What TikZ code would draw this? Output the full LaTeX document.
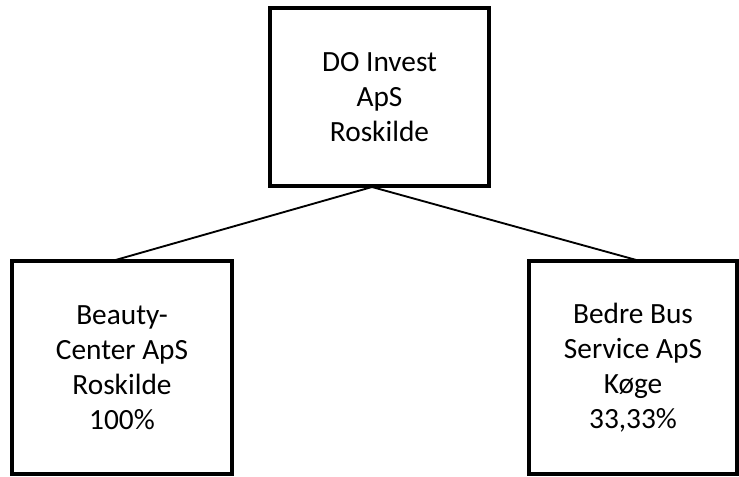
\documentclass[tikz,border=0pt]{standalone}
\usepackage{fontspec}
\setmainfont{Carlito}
\begin{document}
\begin{tikzpicture}[x=0.75pt,y=-0.75pt,
  orgbox/.style={draw=black, line width=2.3pt, rectangle, align=center, inner sep=0pt,
    font=\fontsize{22pt}{26.3pt}\selectfont},
  link/.style={draw=black, line width=1.4pt}]
\useasboundingbox (0,0) rectangle (739,476);
\node[orgbox, minimum width=164.25pt, minimum height=133.5pt] (top) at (379.5,97) {DO Invest\\ApS\\Roskilde};
\node[orgbox, minimum width=165pt, minimum height=159.75pt] (left) at (122,367.5) {Beauty-\\Center ApS\\Roskilde\\100\%};
\node[orgbox, minimum width=156pt, minimum height=159.75pt] (right) at (633,367.5) {Bedre Bus\\Service ApS\\Køge\\33,33\%};
\coordinate (apex) at (372,187);
\coordinate (lend) at (112,261);
\coordinate (rend) at (640,261);
\draw[link] (apex) -- (lend);
\draw[link] (apex) -- (rend);
\end{tikzpicture}
\end{document}
